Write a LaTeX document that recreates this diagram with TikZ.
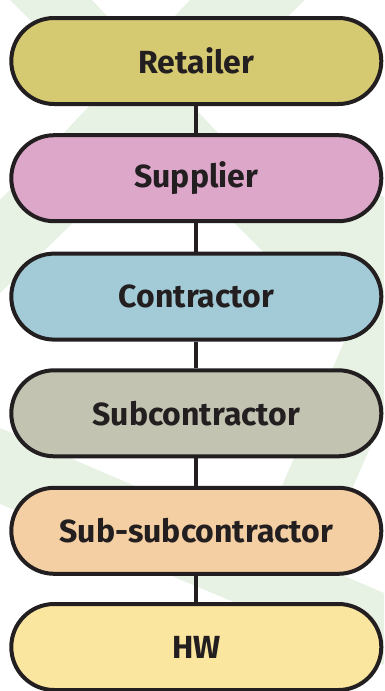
\documentclass[tikz,border=0pt]{standalone}
\usepackage{fontspec}
\setmainfont{Fira Sans}[BoldFont={Fira Sans Bold}]
\definecolor{ink}{HTML}{231F20}
\definecolor{bg}{HTML}{E7F2E4}
\definecolor{cRet}{HTML}{D5C972}
\definecolor{cSup}{HTML}{DDA7CA}
\definecolor{cCon}{HTML}{A3CBD7}
\definecolor{cSub}{HTML}{C2C3B0}
\definecolor{cSsub}{HTML}{F4CFA3}
\definecolor{cHW}{HTML}{FBE6A0}
\tikzset{
  tier/.style={draw=ink, line width=4pt, rounded corners=42.9pt,
    minimum width=370pt, minimum height=86pt, inner sep=0pt,
    text=ink, font=\fontsize{32}{36}\selectfont\bfseries},
  link/.style={draw=ink, line width=4pt}
}
\begin{document}
\begin{tikzpicture}[x=1pt,y=-1pt]
\useasboundingbox (0,0) rectangle (384,691);
% faint background shapes
\fill[bg] (10,0) -- (92,0) -- (220,135) -- (384,197) -- (384,416) -- (321,560) -- (250,560) -- (347,335) -- cycle;
\fill[bg] (190,0) -- (305,0) -- (0,293) -- (0,200) -- cycle;
\fill[bg] (0,428) -- (384,593) -- (384,665) -- (0,504) -- cycle;
% tiers
\node[tier, fill=cRet]  (ret)  at (196.3,61)    {Retailer};
\node[tier, fill=cSup]  (sup)  at (196.3,178.2) {Supplier};
\node[tier, fill=cCon]  (con)  at (196.3,296.6) {Contractor};
\node[tier, fill=cSub]  (sub)  at (196.3,413.3) {Subcontractor};
\node[tier, fill=cSsub] (ssub) at (196.3,530.8) {Sub-subcontractor};
\node[tier, fill=cHW]   (hw)   at (196.3,647)   {HW};
% connectors
\draw[link] (ret.south) -- (sup.north);
\draw[link] (sup.south) -- (con.north);
\draw[link] (con.south) -- (sub.north);
\draw[link] (sub.south) -- (ssub.north);
\draw[link] (ssub.south) -- (hw.north);
\end{tikzpicture}
\end{document}
